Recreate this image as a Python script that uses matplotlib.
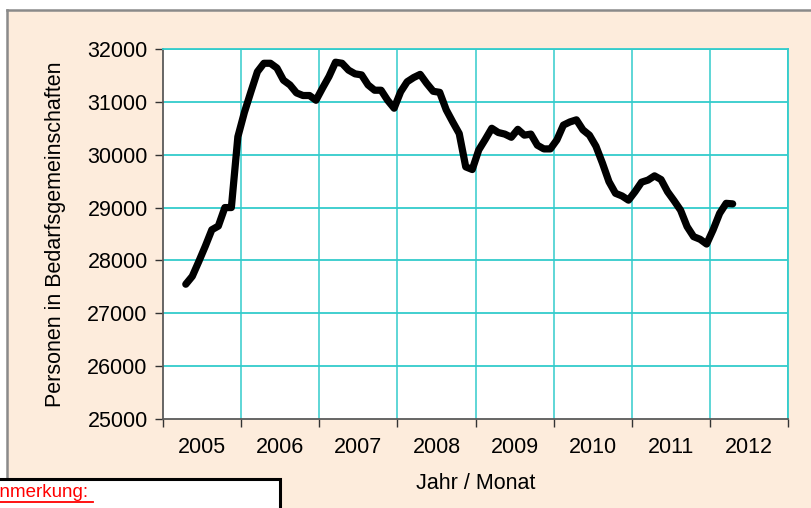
import matplotlib.pyplot as plt
from matplotlib.patches import Rectangle
from matplotlib.lines import Line2D
import numpy as np

plt.rcParams["font.family"] = ["Liberation Sans", "DejaVu Sans"]

# monthly head count, first value April 2005
START_YEAR = 2005
START_MONTH = 4
PERSONS = [
    27550, 27700, 27980, 28270, 28580, 28650, 29000, 29000, 30340,
    30800, 31190, 31570, 31730, 31730, 31640, 31410, 31320, 31170,
    31120, 31120, 31030,
    31260, 31480, 31750, 31730, 31600, 31530, 31510, 31320, 31220, 31220, 31030, 30880,
    31190, 31380, 31460, 31520, 31350, 31200, 31180, 30850, 30620, 30400, 29770, 29720,
    30090, 30290, 30500, 30420, 30390, 30330, 30480, 30370, 30390, 30180, 30110, 30110,
    30280, 30560, 30620, 30660, 30470, 30370, 30160, 29840, 29490, 29270, 29220, 29140,
    29300, 29480, 29520, 29600, 29530, 29300, 29130, 28950, 28640, 28450, 28400, 28310,
    28580, 28890, 29080, 29070,
]
YEARS = [2005, 2006, 2007, 2008, 2009, 2010, 2011, 2012]
Y_TICKS = [25000, 26000, 27000, 28000, 29000, 30000, 31000, 32000]

PEACH = "#FDECDC"
GRID = "#33CCCC"
FONT = 15.5

fig = plt.figure(figsize=(8.11, 5.08), dpi=100)
fig.patch.set_facecolor("white")

# peach chart area with grey frame on top and left
fig.patches.append(Rectangle((7 / 811, 0), 1, 1 - 10 / 508, transform=fig.transFigure,
                             facecolor=PEACH, edgecolor="none", zorder=-5))
fig.lines.append(Line2D([7 / 811, 7 / 811], [0, 1 - 10 / 508], transform=fig.transFigure,
                        color="#8a8a8a", lw=1.8, zorder=-4))
fig.lines.append(Line2D([7 / 811, 1], [1 - 10 / 508, 1 - 10 / 508], transform=fig.transFigure,
                        color="#8a8a8a", lw=1.8, zorder=-4))

ax = fig.add_axes([163 / 811, 1 - 419 / 508, 625 / 811, 370 / 508])
ax.set_facecolor("white")

first = START_MONTH - 1
x = np.arange(first, first + len(PERSONS)) + 0.5
ax.plot(x, PERSONS, color="black", lw=5.2, solid_joinstyle="round",
        solid_capstyle="round", zorder=3)

n_months = 12 * len(YEARS)
ax.set_xlim(0, n_months)
ax.set_ylim(Y_TICKS[0], Y_TICKS[-1])

ax.set_yticks(Y_TICKS)
ax.set_yticklabels([str(v) for v in Y_TICKS], fontsize=FONT)
ax.set_xticks(np.arange(0, n_months + 1, 12))
ax.set_xticklabels([])
ax.set_xticks(np.arange(6, n_months, 12), minor=True)
ax.set_xticklabels([str(y) for y in YEARS], minor=True, fontsize=FONT)
ax.tick_params(axis="x", which="minor", length=0, pad=13)
ax.tick_params(axis="x", which="major", length=6, width=1, color="#333333", direction="out")
ax.tick_params(axis="y", length=6, width=1, color="#333333", direction="out", pad=5)

for v in Y_TICKS[1:]:
    ax.axhline(v, color=GRID, lw=1.3, zorder=1)
for m in range(12, n_months + 1, 12):
    ax.axvline(m, color=GRID, lw=1.1, zorder=1)

for side in ("top", "right"):
    ax.spines[side].set_color(GRID)
    ax.spines[side].set_linewidth(1.3)
for side in ("left", "bottom"):
    ax.spines[side].set_color("#5a5a5a")
    ax.spines[side].set_linewidth(1.3)

ax.set_ylabel("Personen in Bedarfsgemeinschaften", fontsize=FONT)
ax.yaxis.set_label_coords(-0.155, 0.5)
ax.set_xlabel("Jahr / Monat", fontsize=FONT)
ax.xaxis.set_label_coords(0.5, -0.145)

# note box at the lower left edge
fig.patches.append(Rectangle((-0.01, -0.05), 0.01 + 280 / 811, 0.05 + 29 / 508,
                             transform=fig.transFigure, facecolor="white",
                             edgecolor="black", lw=2.2, zorder=5))
fig.text(-13 / 811, 1 - 497 / 508, "Anmerkung: ", color="red", fontsize=13.5,
         ha="left", va="baseline", zorder=6)
fig.lines.append(Line2D([0, 93 / 811], [1 - 502 / 508, 1 - 502 / 508],
                        transform=fig.transFigure, color="red", lw=1.3, zorder=6))

fig.savefig("out.png", dpi=100)
